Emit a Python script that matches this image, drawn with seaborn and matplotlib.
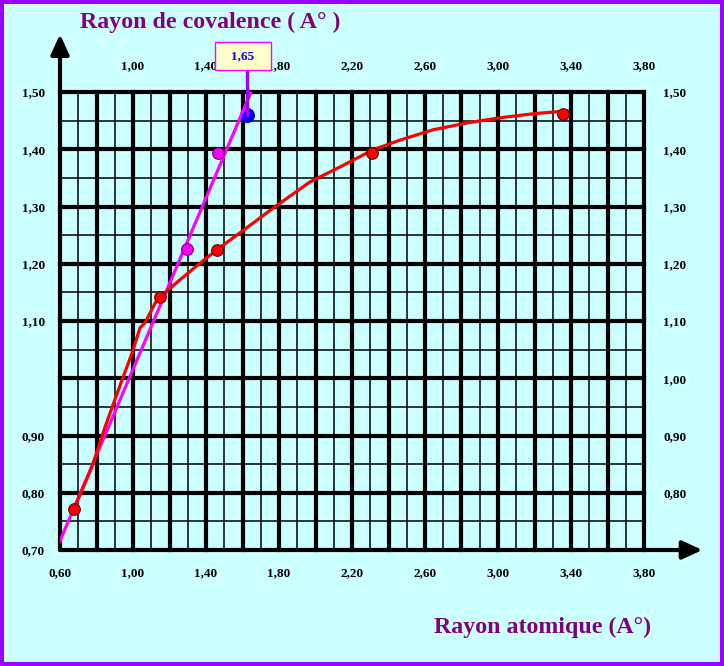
import matplotlib
matplotlib.use("Agg")
import matplotlib.pyplot as plt
import matplotlib.patches as mpatches
import numpy as np
import pandas as pd
import seaborn as sns

# ---------------- data ----------------
red_curve_x = [0.677, 0.775, 0.847, 0.874, 0.940, 0.995, 1.038, 1.066, 1.121, 1.148,
               1.250, 1.367, 1.466, 1.586, 1.780, 1.970, 2.134, 2.315, 2.463, 2.644,
               2.830, 3.011, 3.192, 3.378]
red_curve_y = [0.772, 0.845, 0.915, 0.939, 0.997, 1.044, 1.088, 1.097, 1.131, 1.142,
               1.170, 1.201, 1.226, 1.254, 1.300, 1.343, 1.369, 1.399, 1.416, 1.434,
               1.446, 1.455, 1.462, 1.467]
red_points_x = [0.677, 1.148, 1.460, 2.310, 3.355]
red_points_y = [0.772, 1.142, 1.224, 1.393, 1.462]
magenta_line_x = [0.60, 1.647]
magenta_line_y = [0.716, 1.500]
magenta_points_x = [1.296, 1.466]
magenta_points_y = [1.226, 1.393]
blue_point_x = [1.625]
blue_point_y = [1.460]
callout_text = "1,65"

x_bottom_ticks = [0.6, 1.0, 1.4, 1.8, 2.2, 2.6, 3.0, 3.4, 3.8]
x_bottom_labels = ["0,60", "1,00", "1,40", "1,80", "2,20", "2,60", "3,00", "3,40", "3,80"]
x_top_ticks = [1.0, 1.4, 1.8, 2.2, 2.6, 3.0, 3.4, 3.8]
x_top_labels = ["1,00", "1,40", "1,80", "2,20", "2,60", "3,00", "3,40", "3,80"]
y_left_ticks = [0.7, 0.8, 0.9, 1.1, 1.2, 1.3, 1.4, 1.5]
y_left_labels = ["0,70", "0,80", "0,90", "1,10", "1,20", "1,30", "1,40", "1,50"]
y_right_ticks = [0.8, 0.9, 1.0, 1.1, 1.2, 1.3, 1.4, 1.5]
y_right_labels = ["0,80", "0,90", "1,00", "1,10", "1,20", "1,30", "1,40", "1,50"]

x_thick = [0.8, 1.0, 1.2, 1.4, 1.6, 1.8, 2.0, 2.2, 2.4, 2.6, 2.8, 3.0, 3.2, 3.4, 3.6, 3.8]
x_thin = [0.7, 0.9, 1.1, 1.3, 1.5, 1.7, 1.9, 2.1, 2.3, 2.5, 2.7, 2.9, 3.1, 3.3, 3.5, 3.7]
y_thick = [0.8, 0.9, 1.0, 1.1, 1.2, 1.3, 1.4, 1.5]
y_thin = [0.75, 0.85, 0.95, 1.05, 1.15, 1.25, 1.35, 1.45]

title_top = "Rayon de covalence ( A° )"
title_bottom = "Rayon atomique (A°)"

# ---------------- style ----------------
BG = "#CCFFFF"
PURPLE = "#9900FF"
TITLE_COLOR = "#800080"
SERIF = ["Liberation Serif", "DejaVu Serif"]

W, H = 724, 666
fig = plt.figure(figsize=(W / 100, H / 100), dpi=100, facecolor=BG)
plt.rcParams["font.family"] = SERIF

L, R, B, T = 60, 644, 550, 92
ax = fig.add_axes([L / W, (H - B) / H, (R - L) / W, (B - T) / H])
ax.set_facecolor(BG)
ax.set_xlim(0.6, 3.8)
ax.set_ylim(0.70, 1.50)
for s in ax.spines.values():
    s.set_visible(False)

# grid
for v in x_thin:
    ax.axvline(v, color="black", lw=1.1, zorder=1, clip_on=False)
for v in x_thick:
    ax.axvline(v, color="black", lw=3.0, zorder=1, clip_on=False)
for v in y_thin:
    ax.axhline(v, color="black", lw=1.1, zorder=1, clip_on=False)
for v in y_thick:
    ax.axhline(v, color="black", lw=3.0, zorder=1, clip_on=False)

# axes arrows
ax.annotate("", xy=(0, 1.126), xytext=(0, 0), xycoords="axes fraction",
            textcoords="axes fraction",
            arrowprops=dict(arrowstyle="-|>,head_length=1.2,head_width=0.55",
                            color="black", lw=3, shrinkA=0, shrinkB=0),
            annotation_clip=False, zorder=3)
ax.annotate("", xy=(1.1, 0), xytext=(0, 0), xycoords="axes fraction",
            textcoords="axes fraction",
            arrowprops=dict(arrowstyle="-|>,head_length=1.2,head_width=0.55",
                            color="black", lw=3, shrinkA=0, shrinkB=0),
            annotation_clip=False, zorder=3)

# data
df_mag = pd.DataFrame({"x": magenta_line_x, "y": magenta_line_y})
df_red = pd.DataFrame({"x": red_curve_x, "y": red_curve_y})
sns.scatterplot(x=blue_point_x, y=blue_point_y, ax=ax, color="#0000FF", s=95,
                edgecolor="#0000CC", linewidth=1, zorder=4)
sns.lineplot(data=df_mag, x="x", y="y", ax=ax, color="#FF00FF", lw=2.3, sort=False,
             zorder=5)
sns.lineplot(data=df_red, x="x", y="y", ax=ax, color="#FF0000", lw=2.3, sort=False,
             zorder=5)
sns.scatterplot(x=red_points_x, y=red_points_y, ax=ax, color="#FF0000", s=70,
                edgecolor="#660000", linewidth=0.8, zorder=6)
sns.scatterplot(x=magenta_points_x, y=magenta_points_y, ax=ax, color="#FF00FF", s=70,
                edgecolor="#660066", linewidth=0.8, zorder=6)

# callout: connector + box centred a little left of the blue point
box_cx = blue_point_x[0] - 0.022
box_cy = 1.5625
box_w, box_h = 0.307, 0.049
ax.plot([blue_point_x[0], blue_point_x[0]], [blue_point_y[0], box_cy - box_h / 2],
        color=PURPLE, lw=2.4, zorder=7, clip_on=False)
ax.add_patch(mpatches.Rectangle((box_cx - box_w / 2, box_cy - box_h / 2), box_w, box_h,
                                facecolor="#FFFFCC", edgecolor="#FF00FF", lw=1,
                                zorder=8, clip_on=False))
ax.text(box_cx, box_cy, callout_text, ha="center", va="center", fontsize=9.5,
        fontweight="bold", color="#0000FF", family=SERIF, zorder=9, clip_on=False)

# ticks: bottom/left
tick_font = dict(fontsize=9.5, fontweight="bold", family=SERIF)
ax.set_xticks(x_bottom_ticks)
ax.set_xticklabels(x_bottom_labels, **tick_font)
ax.set_yticks(y_left_ticks)
ax.set_yticklabels(y_left_labels, **tick_font)
ax.tick_params(axis="x", length=0, pad=12)
ax.tick_params(axis="y", length=0, pad=11)
ax.set_xlabel("")
ax.set_ylabel("")

# right ticks
axr = ax.twinx()
axr.set_ylim(ax.get_ylim())
axr.set_yticks(y_right_ticks)
axr.set_yticklabels(y_right_labels, **tick_font)
axr.tick_params(axis="y", length=0, pad=14)
for s in axr.spines.values():
    s.set_visible(False)
axr.patch.set_visible(False)

# top ticks
axt = ax.twiny()
axt.set_xlim(ax.get_xlim())
axt.set_xticks(x_top_ticks)
axt.set_xticklabels(x_top_labels, **tick_font)
axt.tick_params(axis="x", length=0, pad=14)
for s in axt.spines.values():
    s.set_visible(False)
axt.patch.set_visible(False)
axt.set_zorder(ax.get_zorder() - 1)
axr.set_zorder(ax.get_zorder() - 1)
ax.patch.set_visible(True)

# titles
fig.text(210 / W, 1 - 22 / H, title_top, ha="center", va="center", fontsize=17.2,
         fontweight="bold", color=TITLE_COLOR, family=SERIF)
fig.text(543 / W, 1 - 627 / H, title_bottom, ha="center", va="center", fontsize=17.2,
         fontweight="bold", color=TITLE_COLOR, family=SERIF)

# border
fig.add_artist(mpatches.Rectangle((0, 0), 1, 1, transform=fig.transFigure, fill=False,
                                  edgecolor=PURPLE, lw=5.8, clip_on=False))

fig.savefig("out.png", dpi=100, facecolor=BG)
